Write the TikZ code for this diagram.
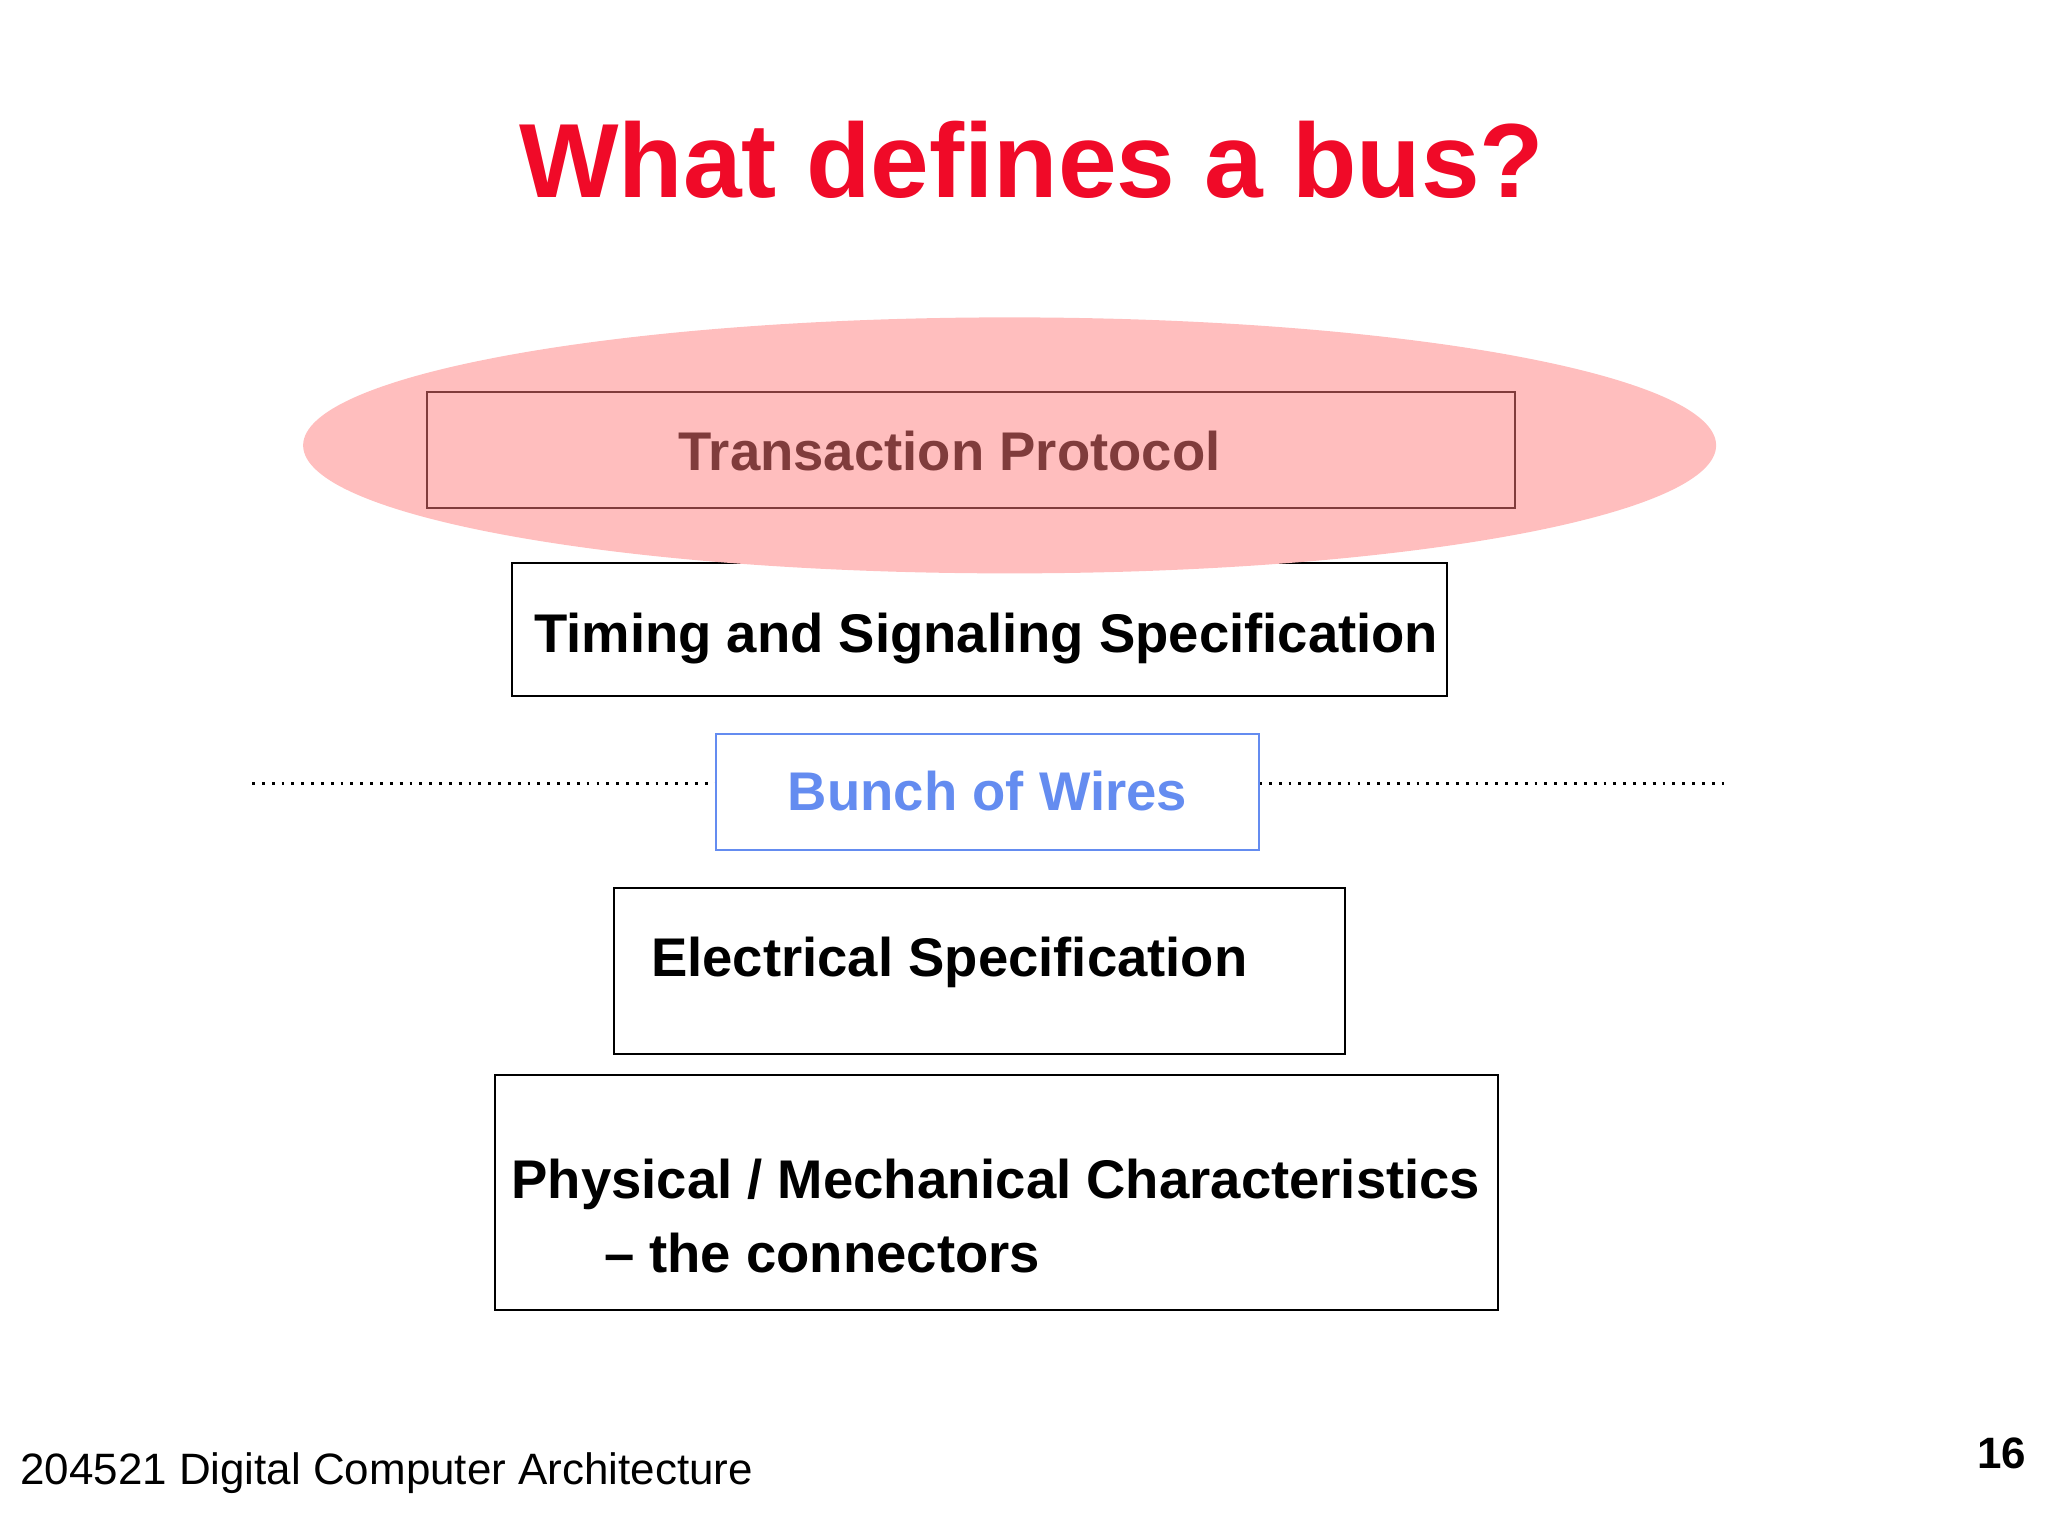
\documentclass[tikz,border=0pt]{standalone}
\usepackage{fontspec}
\setmainfont{Liberation Sans}
\usetikzlibrary{positioning,shapes.geometric}
\definecolor{titlered}{RGB}{240,10,40}
\definecolor{pinkfill}{RGB}{255,190,190}
\definecolor{tpbrown}{RGB}{128,60,60}
\definecolor{wireblue}{RGB}{100,140,240}
\tikzset{
  layerbox/.style={draw=black, line width=0.6pt, inner sep=0pt},
  layertext/.style={font=\fontsize{15.5}{19}\selectfont\bfseries, inner sep=0pt}
}
\begin{document}
\begin{tikzpicture}[x=0.01306cm,y=-0.01306cm]
\useasboundingbox (0,0) rectangle (1568,1176);
% title
\node[font=\fontsize{30}{36}\selectfont\bfseries, text=titlered] (title) at (790,122) {What defines a bus?};
% layers
\draw[layerbox] (392,431) rectangle (1108,533);
\node[layertext] (timing) at (755,489) {Timing and Signaling Specification};
\node[ellipse, fill=pinkfill, minimum width=1082\pgflinewidth, inner sep=0pt,
      minimum width=14.13cm, minimum height=2.56cm] (oval) at (773,341) {};
\draw[layerbox, draw=tpbrown] (327,300) rectangle (1160,389);
\node[layertext, text=tpbrown] (trans) at (727,345) {Transaction Protocol};
% wires
\draw[dotted, line width=0.8pt] (193,600) -- (548,600) (964,600) -- (1320,600);
\draw[layerbox, draw=wireblue] (548,562) rectangle (964,651);
\node[layertext, text=wireblue] (wires) at (756,606) {Bunch of Wires};
\draw[layerbox] (470,680) rectangle (1030,807);
\node[layertext, anchor=west] (elec) at (498,737) {Electrical Specification};
\draw[layerbox] (379,823) rectangle (1147,1003);
\node[layertext, anchor=west] (phys) at (391,907) {Physical / Mechanical Characteristics};
\node[layertext, anchor=west] (conn) at (462,959) {– the connectors};
% footer
\node[font=\fontsize{12.5}{15}\selectfont, anchor=west, inner sep=0pt] (course) at (15,1128) {204521 Digital Computer Architecture};
\node[font=\fontsize{12.5}{15}\selectfont\bfseries, anchor=east, inner sep=0pt] (page) at (1552,1113) {16};
\end{tikzpicture}
\end{document}
